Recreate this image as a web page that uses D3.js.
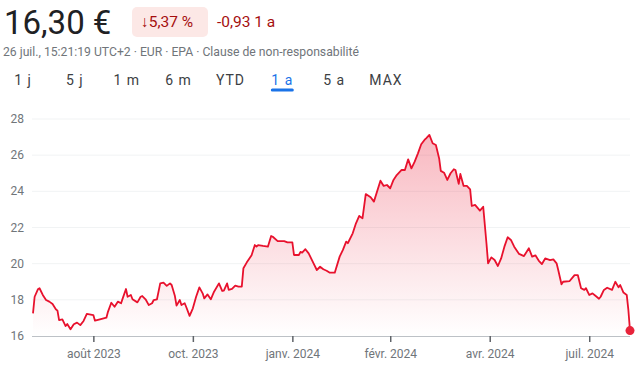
<!DOCTYPE html>
<html lang="fr">
    <head>
        <meta charset="utf-8">
        <title>Cours 1 a</title>
        <script src="https://d3js.org/d3.v7.min.js"></script>
        <style type="text/css">
            body{
                margin:0;
                background:#fff;
            }
            svg{
                width:640px;
                height:365px;
                display:block;
                font-family: Roboto, "Noto Sans", sans-serif;
            }
        </style>
    </head>
    <body>
        <svg></svg>
        <script type="text/javascript">

            // days since 26 juil. 2023 and closing price
            const days = [0,1,3,4,6,8,10,12,14,15,16,18,20,21,23,25,27,29,31,33,37,38,41,45,46,48,50,52,54,55,
                57,58,60,61,64,66,67,69,71,73,74,76,78,80,82,84,85,87,88,90,91,93,94,96,98,100,102,104,105,107,
                109,111,114,116,117,119,120,122,124,126,128,129,131,134,136,137,138,141,144,146,147,150,154,156,159,160,163,164,165,167,
                169,172,174,176,178,180,182,185,188,190,192,193,196,198,200,202,204,207,209,213,215,217,219,221,
                223,226,228,230,232,234,236,238,240,241,243,245,247,249,250,252,254,256,258,259,261,262,264,266,268,269,
                271,274,276,278,279,281,283,285,287,289,291,293,295,298,301,304,306,308,310,312,314,317,319,321,
                322,324,325,329,332,334,336,338,339,341,343,345,347,348,350,352,355,357,359,360,362,364,365,366];
            const prices = [17.25,18.17,18.58,18.64,18.27,17.99,17.9,17.77,17.48,17.4,16.88,16.92,16.55,16.66,16.37,16.65,16.74,16.6,16.83,17.22,17.16,16.85,16.92,17.01,17.35,17.84,17.62,17.9,17.81,18.08,
                18.6,18.17,18.27,18.03,17.86,18.17,18.21,18.03,17.71,17.81,17.99,18.03,18.91,18.95,18.77,18.91,18.82,18.21,17.68,17.99,17.71,17.81,17.59,17.11,17.53,18.17,18.69,18.36,18.08,18.3,
                18.03,18.45,18.91,18.49,18.51,18.91,18.55,18.6,18.78,18.73,18.73,19.75,20.06,20.46,21.03,20.94,21.03,20.98,20.94,21.53,21.49,21.25,21.25,21.18,21.18,20.48,20.48,20.65,20.61,20.8,
                20.57,20.02,19.65,19.83,19.69,19.61,19.5,19.5,20.39,20.76,21.22,21.13,21.68,22.23,22.64,22.51,23.85,23.67,23.43,24.59,24.3,24.35,24.17,24.63,
                24.9,25.18,25.18,25.77,25.27,25.64,26.1,26.6,26.84,26.93,27.12,26.66,26.56,25.82,25.13,25.03,24.63,25,25.22,25.18,24.41,24.96,24.3,24.3,24.11,23.19,
                23.25,22.93,23.15,21.13,20.02,20.35,20.2,19.87,20.29,20.94,21.46,21.31,20.94,20.54,20.42,20.85,20.39,20.46,20.17,19.98,20.29,20.2,20.24,20.02,
                19.65,18.86,19.0,19.04,19.37,19.37,18.64,18.55,18.64,18.27,18.36,18.21,18.06,18.17,18.55,18.67,18.55,19.0,18.69,18.82,18.4,18.27,17.44,16.30];

            const yTicks = [16, 18, 20, 22, 24, 26, 28];
            const xTickDates = ["2023-09-01", "2023-11-01", "2024-01-01", "2024-03-01", "2024-05-01", "2024-07-01"];
            const xTickLabels = ["août 2023", "oct. 2023", "janv. 2024", "févr. 2024", "avr. 2024", "juil. 2024"];
            const ranges = ["1 j", "5 j", "1 m", "6 m", "YTD", "1 a", "5 a", "MAX"];
            const activeRange = "1 a";

            const start = new Date(2023, 6, 26);
            const dayMs = 24 * 3600 * 1000;
            const data = days.map((d, i) => ({date: new Date(start.getTime() + d * dayMs), price: prices[i]}));

            const svg = d3.select("svg");
            const red = "#e8112d";
            const grey = "#70757a";

            // header
            svg.append("text").attr("x", 4).attr("y", 34)
                .attr("font-size", 33).attr("fill", "#202124").text("16,30 €");

            svg.append("rect").attr("x", 132).attr("y", 7).attr("width", 76).attr("height", 30)
                .attr("rx", 5).attr("fill", "#fce8e6");
            svg.append("text").attr("x", 141).attr("y", 27)
                .attr("font-size", 15.5).attr("fill", "#a50e0e").text("↓5,37 %");
            svg.append("text").attr("x", 217).attr("y", 27)
                .attr("font-size", 15.5).attr("fill", "#a50e0e").text("-0,93 1 a");

            svg.append("text").attr("x", 3).attr("y", 56)
                .attr("font-size", 12.2).attr("fill", grey)
                .text("26 juil., 15:21:19 UTC+2 · EUR · EPA · Clause de non-responsabilité");

            const tabX = d3.scalePoint().domain(ranges).range([23, 386]);
            svg.selectAll("text.tab")
                .data(ranges)
                .join("text")
                .attr("class", "tab")
                .attr("x", d => tabX(d))
                .attr("y", 85)
                .attr("text-anchor", "middle")
                .attr("font-size", 14)
                .attr("letter-spacing", 1)
                .attr("fill", d => d === activeRange ? "#1a73e8" : "#3c4043")
                .text(d => d);
            svg.append("line")
                .attr("x1", tabX(activeRange) - 10).attr("x2", tabX(activeRange) + 10)
                .attr("y1", 90).attr("y2", 90)
                .attr("stroke", "#1a73e8").attr("stroke-width", 3).attr("stroke-linecap", "round");

            // chart
            const x = d3.scaleTime()
                        .domain([start, new Date(start.getTime() + 366 * dayMs)])
                        .range([33, 630]);
            const y = d3.scaleLinear().domain([16, 28]).range([336, 119]);

            svg.append("g")
                .selectAll("line")
                .data(yTicks.slice(1))
                .join("line")
                .attr("x1", 32).attr("x2", 630)
                .attr("y1", d => y(d)).attr("y2", d => y(d))
                .attr("stroke", "#f1f3f4").attr("stroke-width", 1);

            svg.append("g")
                .selectAll("text")
                .data(yTicks)
                .join("text")
                .attr("x", 24)
                .attr("y", d => y(d) + 4)
                .attr("text-anchor", "end")
                .attr("font-size", 12)
                .attr("fill", grey)
                .text(d => d);

            const grad = svg.append("defs").append("linearGradient")
                            .attr("id", "fillGrad")
                            .attr("gradientUnits", "userSpaceOnUse")
                            .attr("x1", 0).attr("x2", 0)
                            .attr("y1", y(27.2)).attr("y2", y(16));
            grad.append("stop").attr("offset", "0%").attr("stop-color", red).attr("stop-opacity", 0.3);
            grad.append("stop").attr("offset", "100%").attr("stop-color", red).attr("stop-opacity", 0);

            const area = d3.area()
                            .x(d => x(d.date))
                            .y0(y(16))
                            .y1(d => y(d.price));
            svg.append("path").datum(data)
                .attr("d", area)
                .attr("fill", "url(#fillGrad)");

            const xAxis = d3.axisBottom(x)
                            .tickValues(xTickDates.map(d => d3.timeParse("%Y-%m-%d")(d)))
                            .tickFormat((d, i) => xTickLabels[i])
                            .tickSize(6)
                            .tickPadding(7);
            const gx = svg.append("g")
                          .attr("transform", "translate(0," + y(16) + ")")
                          .call(xAxis);
            gx.select(".domain").attr("d", "M32,0.5H630").attr("stroke", "#bdc1c6");
            gx.selectAll(".tick line").attr("stroke", "#5f6368").attr("stroke-width", 1.5);
            gx.selectAll(".tick text")
                .attr("font-size", 12)
                .attr("font-family", "Roboto, sans-serif")
                .attr("fill", grey);

            const line = d3.line()
                            .x(d => x(d.date))
                            .y(d => y(d.price));
            svg.append("path").datum(data)
                .attr("d", line)
                .attr("fill", "none")
                .attr("stroke", red)
                .attr("stroke-width", 1.8)
                .attr("stroke-linejoin", "round");

            const last = data[data.length - 1];
            svg.append("circle")
                .attr("cx", x(last.date))
                .attr("cy", y(last.price))
                .attr("r", 4.5)
                .attr("fill", "#e8233a");

        </script>
    </body>
</html>
